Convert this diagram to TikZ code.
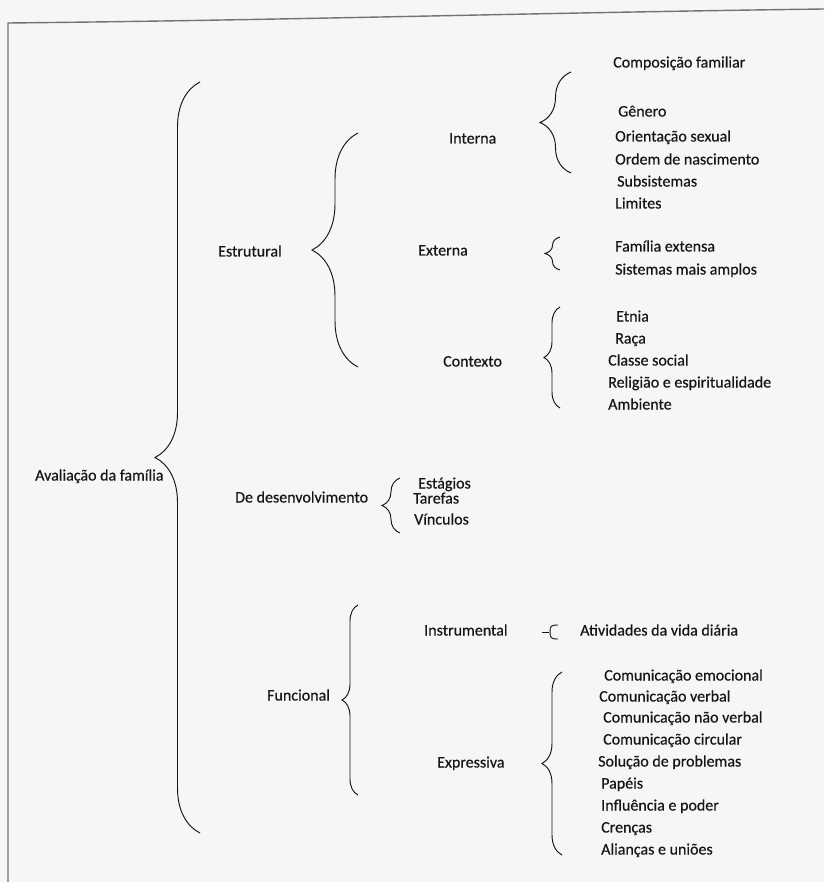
\documentclass[tikz,border=0pt]{standalone}
\usepackage{fontspec}
\setmainfont{Carlito}[FakeBold=0.5]
\usetikzlibrary{decorations.pathreplacing}
\definecolor{ink}{RGB}{22,22,22}
\definecolor{paper}{RGB}{246,246,244}
\definecolor{framec}{RGB}{115,115,115}
\begin{document}
\begin{tikzpicture}[x=1pt,y=-1pt,
  lbl/.style={anchor=west,inner sep=0pt,text height=10.5pt,text depth=3.5pt,
    font=\fontsize{16}{18}\selectfont,text=ink},
  brc/.style={draw=ink,line width=0.95pt,decorate,
    decoration={brace,amplitude=#1}},
  framel/.style={draw=framec,line width=1.4pt}]
\fill[paper] (0,0) rectangle (824,882);
\useasboundingbox (0,0) rectangle (824,882);
% frame
\coordinate (fa) at (8,882);
\coordinate (fb) at (8,23);
\coordinate (fc) at (824,9);
\draw[framel] (fa) -- (fb) .. controls (300,20) and (520,13) .. (fc);

% level 0
\node[lbl] (aval) at (35,477) {Avaliação da família};
\draw[brc=45] (200,833) -- (200,82);

% level 1
\node[lbl] (estr) at (218,253) {Estrutural};
\node[lbl] (desen) at (235,499) {De desenvolvimento};
\node[lbl] (func) at (267,697) {Funcional};
\draw[brc=46] (358,367) -- (358,133);
\draw[brc=18] (400,533) -- (400,478);
\draw[brc=16] (358,795) -- (358,605);

% level 2
\node[lbl] (int) at (449,140) {Interna};
\node[lbl] (ext) at (418,252) {Externa};
\node[lbl] (ctx) at (443,363) {Contexto};
\node[lbl] (instr) at (424,632) {Instrumental};
\node[lbl] (expr) at (437,764) {Expressiva};
\draw[brc=31] (571,173) -- (571,72);
\draw[brc=15] (560,270) -- (560,237);
\draw[brc=16] (560,408) -- (560,307);
\draw[brc=20] (562,855) -- (562,672);
% instrumental small bracket
\draw[ink,line width=0.95pt] (542,632) -- (549,632);
\draw[ink,line width=0.95pt] (558,625) .. controls (551,625) and (550,626) .. (550,632)
  .. controls (550,638) and (551,639) .. (558,639);

% development items
\node[lbl] (est) at (418,485) {Estágios};
\node[lbl] (tar) at (413,500) {Tarefas};
\node[lbl] (vin) at (414,521) {Vínculos};

% interna items
\node[lbl] (comp) at (613,64) {Composição familiar};
\node[lbl] (gen) at (618,113) {Gênero};
\node[lbl] (ori) at (615,138) {Orientação sexual};
\node[lbl] (ord) at (615,161) {Ordem de nascimento};
\node[lbl] (sub) at (617,183) {Subsistemas};
\node[lbl] (lim) at (615,205) {Limites};

% externa items
\node[lbl] (fam) at (615,248) {Família extensa};
\node[lbl] (sis) at (615,271) {Sistemas mais amplos};

% contexto items
\node[lbl] (etn) at (616,318) {Etnia};
\node[lbl] (rac) at (615,340) {Raça};
\node[lbl] (cla) at (608,362) {Classe social};
\node[lbl] (rel) at (608,384) {Religião e espiritualidade};
\node[lbl] (amb) at (608,406) {Ambiente};

% instrumental
\node[lbl] (ativ) at (580,632) {Atividades da vida diária};

% expressiva items
\node[lbl] (c1) at (604,677) {Comunicação emocional};
\node[lbl] (c2) at (599,698) {Comunicação verbal};
\node[lbl] (c3) at (603,719) {Comunicação não verbal};
\node[lbl] (c4) at (603,741) {Comunicação circular};
\node[lbl] (sol) at (598,763) {Solução de problemas};
\node[lbl] (pap) at (601,785) {Papéis};
\node[lbl] (inf) at (601,807) {Influência e poder};
\node[lbl] (cre) at (601,829) {Crenças};
\node[lbl] (ali) at (601,851) {Alianças e uniões};
\end{tikzpicture}
\end{document}
